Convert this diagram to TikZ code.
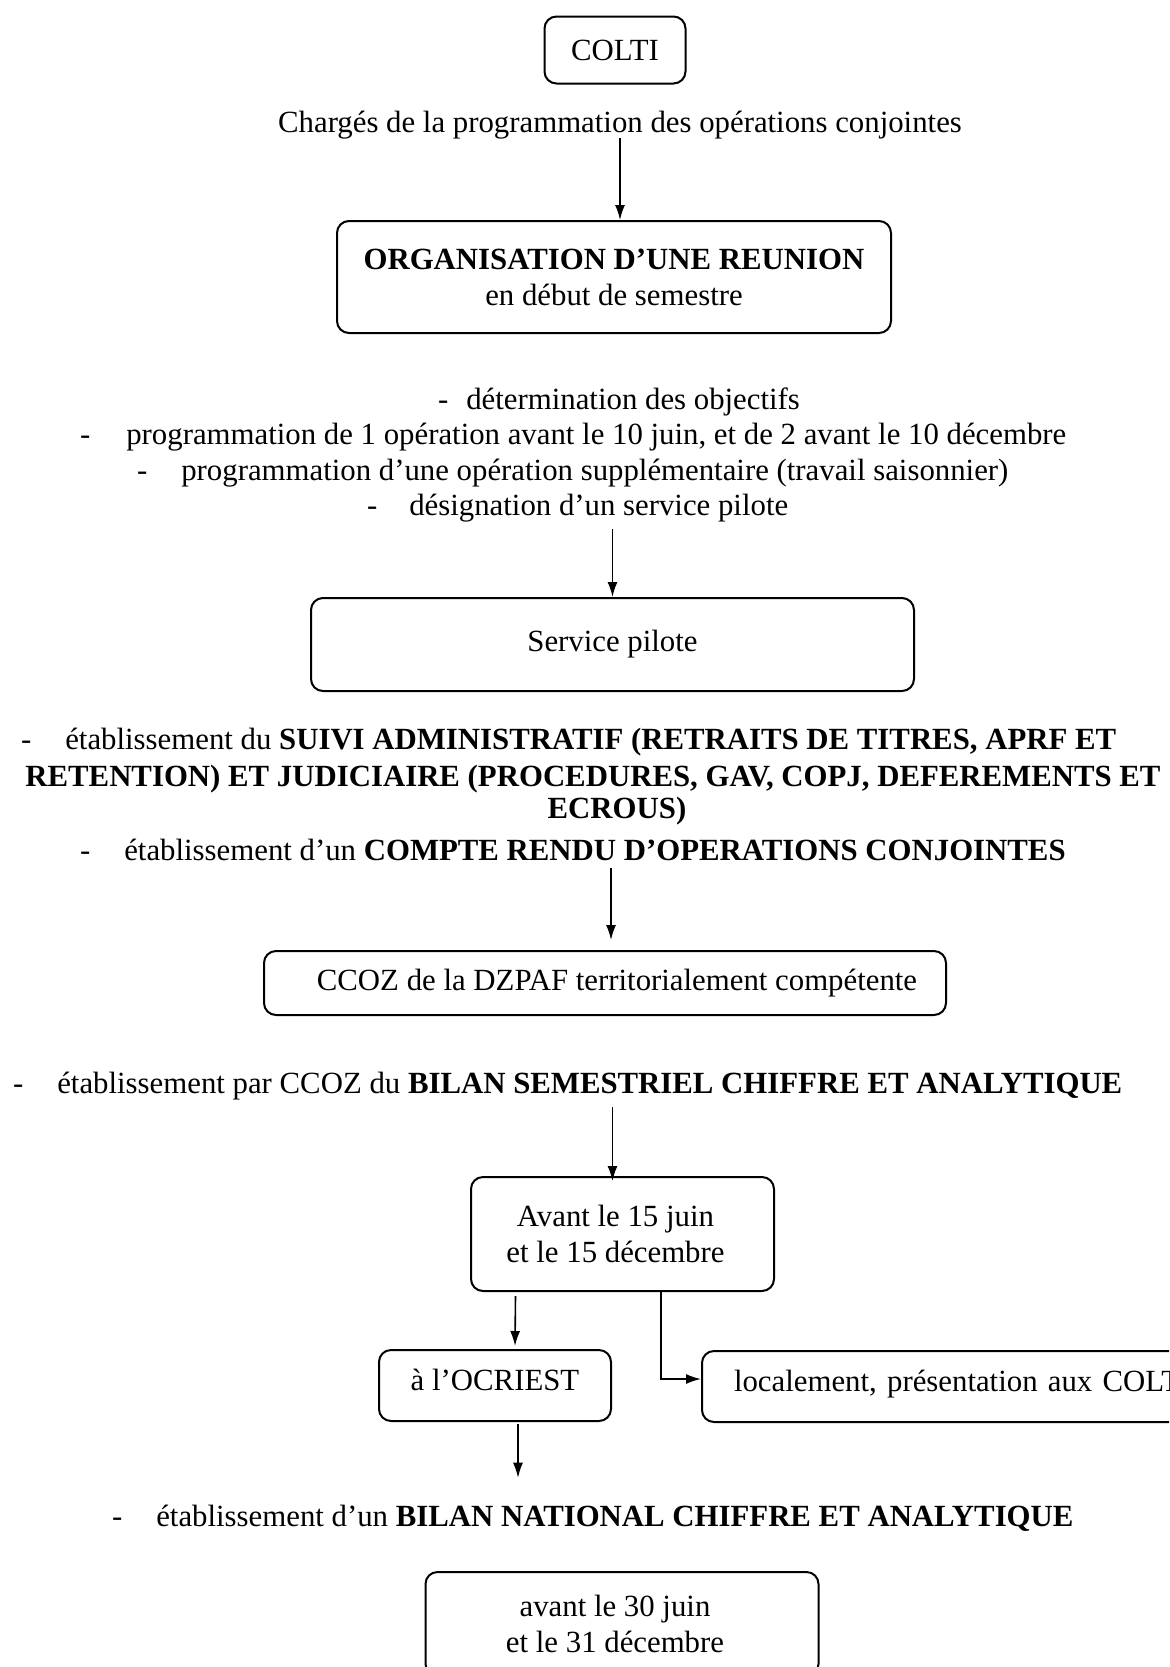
\documentclass[tikz,border=0pt]{standalone}
\usepackage{fontspec}
\setmainfont{Liberation Serif}
\usepackage{tikz}
\usetikzlibrary{arrows.meta, positioning, calc}

\begin{document}
\begin{tikzpicture}[x=0.5pt, y=-0.5pt,
    font=\fontsize{15.4}{18}\selectfont,
    boxnode/.style={draw, rounded corners=6pt, line width=1pt, align=center},
    arr/.style={-{Latex[length=7.5pt,width=5pt]}, line width=0.8pt}]
\useasboundingbox (0,0) rectangle (1169,1667);
\clip (0,0) rectangle (1169,1667);
% top part
\node[boxnode, minimum width=70.5pt, minimum height=33.5pt] (colti) at (615,50) {COLTI};
\node (charges) at (620,125) {Chargés de la programmation des opérations conjointes};
\node[boxnode, minimum width=277pt, minimum height=56pt] (orga) at (614,277)
    {\textbf{ORGANISATION D’UNE REUNION}\\en début de semestre};
\draw[arr] ($(charges.south)+(0,-8)$) -- (charges.south |- orga.north);
% objectives
\node[anchor=west] (obj1) at (431,402) {-\hspace{9pt}détermination des objectifs};
\node[anchor=west] (obj2) at (73,437) {-\hspace{18pt}programmation de 1 opération avant le 10 juin, et de 2 avant le 10 décembre};
\node[anchor=west] (obj3) at (130,473) {-\hspace{17pt}programmation d’une opération supplémentaire (travail saisonnier)};
\node[anchor=west] (obj4) at (360,508) {-\hspace{16pt}désignation d’un service pilote};
\node[boxnode, minimum width=301.5pt, minimum height=46.5pt] (pilote) at (612.5,644.5) {Service pilote};
\draw[arr] (pilote.north |- obj4.south) -- (pilote.north);
% suivi
\node[anchor=west] (suivi1) at (14,742) {-\hspace{17pt}établissement du \textbf{SUIVI ADMINISTRATIF (RETRAITS DE TITRES, APRF ET}};
\node (suivi2) at (593,779) {\textbf{RETENTION) ET JUDICIAIRE (PROCEDURES, GAV, COPJ, DEFEREMENTS ET}};
\node (suivi3) at (617,811) {\textbf{ECROUS)}};
\node[anchor=west] (compte) at (73,850) {-\hspace{17pt}établissement d’un \textbf{COMPTE RENDU D’OPERATIONS CONJOINTES}};
\node[boxnode, minimum width=341pt, minimum height=32pt] (ccoz) at (605,983) {\hspace{12pt}CCOZ de la DZPAF territorialement compétente};
\coordinate (ccozin) at (611,940);
\draw[arr] (compte.south -| ccozin) -- (ccozin);
% bilan semestriel
\node[anchor=west] (bilan) at (6,1086) {-\hspace{17pt}établissement par CCOZ du \textbf{BILAN SEMESTRIEL CHIFFRE ET ANALYTIQUE}};
\node[boxnode, minimum width=151.5pt, minimum height=57pt] (avant) at (622.5,1234)
    {\hspace*{-7pt}Avant le 15 juin\\\hspace*{-7pt}et le 15 décembre};
\draw[arr] (bilan.south -| pilote.north) -- ($(avant.north -| pilote.north)+(0,5)$);
\node[boxnode, minimum width=116pt, minimum height=35.5pt] (ocriest) at (495,1385.5) {\raisebox{6pt}{à l’OCRIEST}};
\node[boxnode, anchor=north west, minimum height=35.5pt, text width=280pt, align=left, inner xsep=16pt] (local) at (701,1350)
    {\raisebox{6pt}{localement, présentation aux COLTI}};
\coordinate (coude) at (661,1379);
\draw[arr] ($(avant.south)+(-107,4)$) -- ($(ocriest.north)+(20,-3)$);
\draw[arr] (avant.south -| coude) -- (coude) -- (coude -| local.west);
% bilan national
\node[anchor=west] (national) at (105,1518) {-\hspace{17pt}établissement d’un \textbf{BILAN NATIONAL CHIFFRE ET ANALYTIQUE}};
\draw[arr] ($(ocriest.south)+(23,2)$) -- ($(national.north -| ocriest.south)+(23,-20)$);
\node[boxnode, anchor=north, minimum width=196.5pt, minimum height=52pt] (fin) at (622,1571)
    {\hspace*{-7pt}avant le 30 juin\\\hspace*{-7pt}et le 31 décembre};
\end{tikzpicture}
\end{document}
